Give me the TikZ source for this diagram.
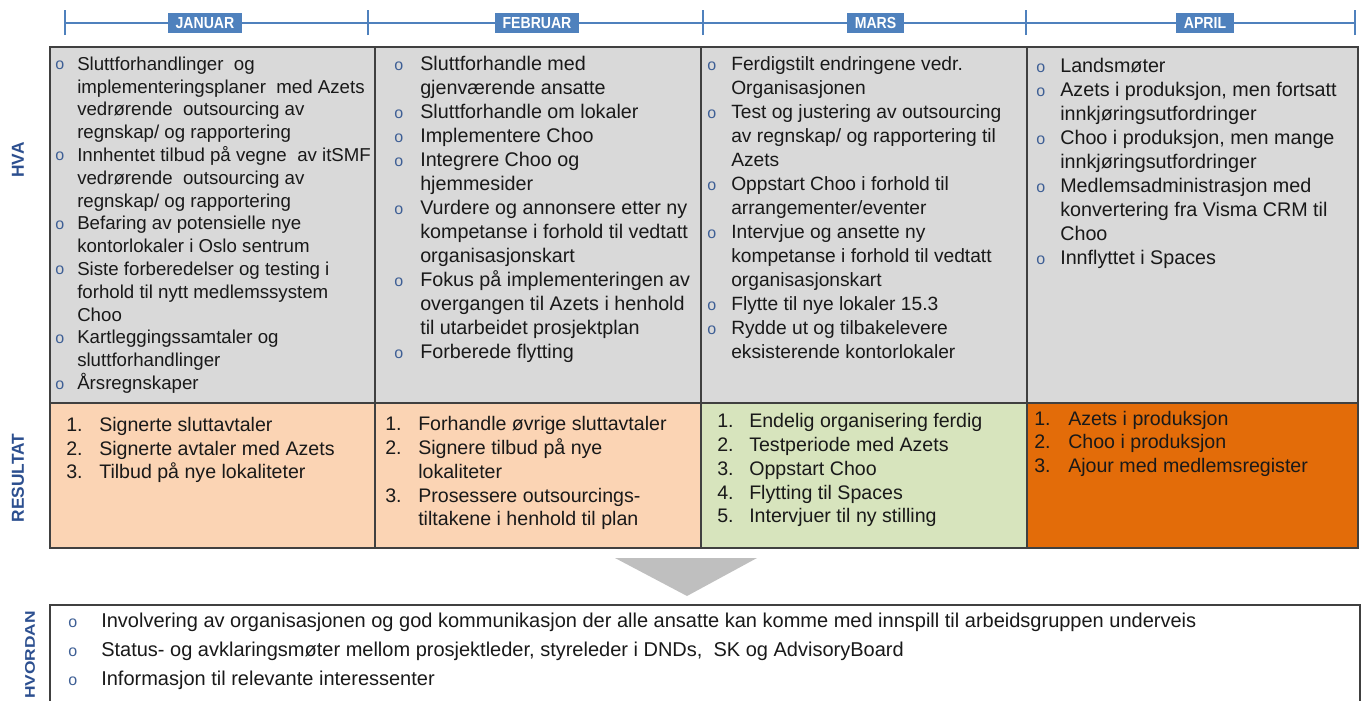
\documentclass[tikz,border=0pt]{standalone}
\usepackage{fontspec}
\setmainfont{Liberation Sans}
\usepackage{graphicx}
\usepackage{array}
\definecolor{lineblue}{HTML}{4F81BD}
\definecolor{labblue}{HTML}{2C4F8F}
\definecolor{bulblue}{HTML}{3E5F95}
\definecolor{hvagray}{HTML}{D9D9D9}
\definecolor{peach}{HTML}{FBD4B4}
\definecolor{lgreen}{HTML}{D7E4BD}
\definecolor{dorange}{HTML}{E36C09}
\definecolor{arrowgray}{HTML}{BFBFBF}
\definecolor{gridline}{HTML}{404040}
\newcommand{\bul}{\raisebox{0.4pt}{\textcolor{bulblue}{\fontsize{12}{12}\selectfont o}}}
\tikzset{
  grid/.style={draw=gridline, line width=1pt},
  timeline/.style={draw=lineblue, line width=2.2pt},
  month/.style={fill=lineblue, text=white, inner xsep=6pt, inner ysep=0pt,
    minimum height=15pt, font=\bfseries\fontsize{12}{12}\selectfont},
  rowlabel/.style={rotate=90, text=labblue, inner sep=0pt,
    font=\bfseries\fontsize{13}{13}\selectfont},
  celltext/.style={anchor=north west, inner sep=0pt, text=black!90},
}
\begin{document}
\begin{tikzpicture}[x=0.75pt,y=-0.75pt]
  \useasboundingbox (0,0) rectangle (1362,700);
  \coordinate (T0) at (65,23);
  \coordinate (T1) at (368,23);
  \coordinate (T2) at (703,23);
  \coordinate (T3) at (1026,23);
  \coordinate (T4) at (1355,23);
  \draw[timeline] (T0) -- (T4);
  \foreach \t in {T0,T1,T2,T3,T4}
    \draw[timeline] ([yshift=-9pt]\t) -- ([yshift=10pt]\t);
  \node[month] (M0) at (205,23) {\scalebox{0.88}[1]{JANUAR}};
  \node[month] (M1) at (537,23) {\scalebox{0.88}[1]{FEBRUAR}};
  \node[month] (M2) at (875.5,23) {\scalebox{0.88}[1]{MARS}};
  \node[month] (M3) at (1205,23) {\scalebox{0.88}[1]{APRIL}};

  \fill[hvagray] (50,47) rectangle (1358,403);
  \fill[peach] (50,403) rectangle (701,548);
  \fill[lgreen] (701,403) rectangle (1027,548);
  \fill[dorange] (1027,403) rectangle (1358,548);
  \draw[grid] (50,47) rectangle (1358,548);
  \draw[grid] (50,403) -- (1358,403);
  \draw[grid] (375,47) -- (375,548);
  \draw[grid] (701,47) -- (701,548);
  \draw[grid] (1027,47) -- (1027,548);

  \node[rowlabel] (L0) at (18,160) {HVA};
  \node[rowlabel] (L1) at (18,478) {RESULTAT};
  \node[rowlabel] (L2) at (30,655) {\fontsize{10.5}{10.5}\selectfont\scalebox{1.24}[1]{HVORDAN}};

  \node[celltext] (H0) at (55,54) {\fontsize{14}{17.1}\selectfont
    \begin{tabular}{@{}p{16.5pt}@{}l@{}}
    \bul & Sluttforhandlinger\ \ og\\
    & implementeringsplaner\ \ med Azets\\
    & vedrørende\ \ outsourcing av\\
    & regnskap/ og rapportering\\
    \bul & Innhentet tilbud på vegne\ \ av itSMF\\
    & vedrørende\ \ outsourcing av\\
    & regnskap/ og rapportering\\
    \bul & Befaring av potensielle nye\\
    & kontorlokaler i Oslo sentrum\\
    \bul & Siste forberedelser og testing i\\
    & forhold til nytt medlemssystem\\
    & Choo\\
    \bul & Kartleggingssamtaler og\\
    & sluttforhandlinger\\
    \bul & Årsregnskaper
    \end{tabular}};
  \node[celltext] (H1) at (394,53.5) {\fontsize{14.8}{18}\selectfont
    \begin{tabular}{@{}p{19.5pt}@{}l@{}}
    \bul & Sluttforhandle med\\
    & gjenværende ansatte\\
    \bul & Sluttforhandle om lokaler\\
    \bul & Implementere Choo\\
    \bul & Integrere Choo og\\
    & hjemmesider\\
    \bul & Vurdere og annonsere etter ny\\
    & kompetanse i forhold til vedtatt\\
    & organisasjonskart\\
    \bul & Fokus på implementeringen av\\
    & overgangen til Azets i henhold\\
    & til utarbeidet prosjektplan\\
    \bul & Forberede flytting
    \end{tabular}};
  \node[celltext] (H2) at (707,53.5) {\fontsize{14.4}{18}\selectfont
    \begin{tabular}{@{}p{18pt}@{}l@{}}
    \bul & Ferdigstilt endringene vedr.\\
    & Organisasjonen\\
    \bul & Test og justering av outsourcing\\
    & av regnskap/ og rapportering til\\
    & Azets\\
    \bul & Oppstart Choo i forhold til\\
    & arrangementer/eventer\\
    \bul & Intervjue og ansette ny\\
    & kompetanse i forhold til vedtatt\\
    & organisasjonskart\\
    \bul & Flytte til nye lokaler 15.3\\
    \bul & Rydde ut og tilbakelevere\\
    & eksisterende kontorlokaler
    \end{tabular}};
  \node[celltext] (H3) at (1036,55.5) {\fontsize{14.8}{18}\selectfont
    \begin{tabular}{@{}p{18pt}@{}l@{}}
    \bul & Landsmøter\\
    \bul & Azets i produksjon, men fortsatt\\
    & innkjøringsutfordringer\\
    \bul & Choo i produksjon, men mange\\
    & innkjøringsutfordringer\\
    \bul & Medlemsadministrasjon med\\
    & konvertering fra Visma CRM til\\
    & Choo\\
    \bul & Innflyttet i Spaces
    \end{tabular}};

  \node[celltext] (R0) at (66,415) {\fontsize{14.7}{17.7}\selectfont
    \begin{tabular}{@{}p{24.75pt}@{}l@{}}
    1. & Signerte sluttavtaler\\
    2. & Signerte avtaler med Azets\\
    3. & Tilbud på nye lokaliteter
    \end{tabular}};
  \node[celltext] (R1) at (385,414) {\fontsize{14.7}{17.8}\selectfont
    \begin{tabular}{@{}p{24.75pt}@{}l@{}}
    1. & Forhandle øvrige sluttavtaler\\
    2. & Signere tilbud på nye\\
    & lokaliteter\\
    3. & Prosessere outsourcings-\\
    & tiltakene i henhold til plan
    \end{tabular}};
  \node[celltext] (R2) at (717,411) {\fontsize{14.7}{17.8}\selectfont
    \begin{tabular}{@{}p{24pt}@{}l@{}}
    1. & Endelig organisering ferdig\\
    2. & Testperiode med Azets\\
    3. & Oppstart Choo\\
    4. & Flytting til Spaces\\
    5. & Intervjuer til ny stilling
    \end{tabular}};
  \node[celltext] (R3) at (1034,408.5) {\fontsize{14.7}{17.6}\selectfont
    \begin{tabular}{@{}p{25.5pt}@{}l@{}}
    1. & Azets i produksjon\\
    2. & Choo i produksjon\\
    3. & Ajour med medlemsregister
    \end{tabular}};

  \fill[arrowgray] (615,558) -- (757,558) -- (687,596) -- cycle;

  \draw[grid] (50,712) -- (50,605) -- (1360,605) -- (1360,712);
  \node[celltext] (V0) at (68,607) {\fontsize{15}{21.75}\selectfont
    \begin{tabular}{@{}p{24.75pt}@{}l@{}}
    \bul & Involvering av organisasjonen og god kommunikasjon der alle ansatte kan komme med innspill til arbeidsgruppen underveis\\
    \bul & Status- og avklaringsmøter mellom prosjektleder, styreleder i DNDs,\ \ SK og AdvisoryBoard\\
    \bul & Informasjon til relevante interessenter
    \end{tabular}};
\end{tikzpicture}
\end{document}
